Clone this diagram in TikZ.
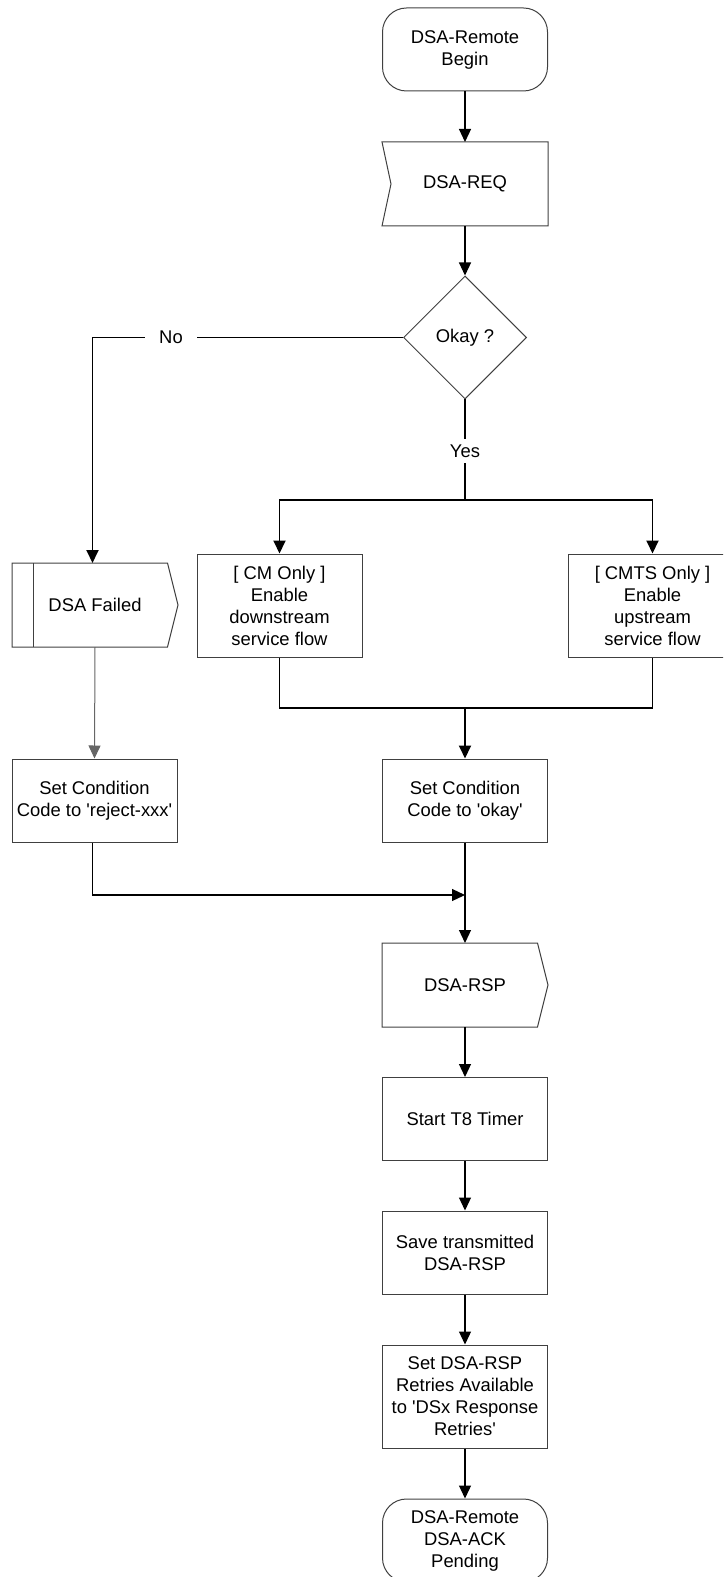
\documentclass[tikz,border=0pt]{standalone}
\usepackage{fontspec}
\setmainfont{Liberation Sans}
\usetikzlibrary{arrows.meta,shapes.geometric,calc}

\begin{document}
\begin{tikzpicture}[x=0.5pt,y=-0.5pt,line join=miter,
  font=\fontsize{9.2}{11}\selectfont,
  box/.style={draw=black!75,line width=0.5pt,minimum width=82.5pt,minimum height=41.5pt,inner sep=1pt,align=center},
  blank/.style={box,draw=none},
  term/.style={box,rounded corners=12pt},
  tallbox/.style={box,minimum height=51.5pt},
  outline/.style={draw=black!75,line width=0.5pt},
  tip/.style={-{Triangle[width=6pt,length=6.5pt]}},
  flow/.style={line width=0.6pt},
  bus/.style={line width=0.95pt},
  thinflow/.style={line width=0.5pt,draw=black!60}]
  \useasboundingbox (0,0) rectangle (723,1577);
  \clip (0,0) rectangle (723,1577);
  \node[term] (begin) at (465,49.5) {DSA-Remote\\Begin};
  \node[blank] (req) at (465,184) {DSA-REQ};
  \draw[outline] (req.north west) -- (req.north east) -- (req.south east) -- (req.south west)
    -- ($(req.west)+(9,0)$) -- cycle;
  \node[draw=black!75,line width=0.5pt,diamond,aspect=1,minimum size=61.5pt,inner sep=0pt] (okq) at (465,337.5) {Okay ?};
  \node[inner xsep=7pt] (nolab) at (171,337.5) {No};
  \node[inner ysep=2.6pt] (yeslab) at (465,451) {Yes};
  \coordinate (nocorner) at (92.5,337.5);
  \coordinate (split) at (465,500);
  \node[tallbox] (cm) at (279.5,605.5) {[ CM Only ]\\Enable\\downstream\\service flow};
  \node[tallbox,minimum width=84pt] (cmts) at (652.5,605.5) {[ CMTS Only ]\\Enable\\upstream\\service flow};
  \node[blank] (fail) at (95,605) {DSA Failed};
  \draw[outline] (fail.north west) -- ($(fail.north east)+(-10.5,0)$) -- (fail.east)
    -- ($(fail.south east)+(-10.5,0)$) -- (fail.south west) -- cycle;
  \draw[outline] ($(fail.north west)+(21,0)$) -- ($(fail.south west)+(21,0)$);
  \coordinate (merge) at (465,708);
  \node[box] (reject) at (94.5,800.5) {Set Condition\\Code to \textquotesingle reject-xxx\textquotesingle};
  \node[box] (okay) at (465,800.5) {Set Condition\\Code to \textquotesingle okay\textquotesingle};
  \coordinate (join) at (465,895);
  \node[blank] (rsp) at (465,985) {DSA-RSP};
  \draw[outline] (rsp.north west) -- ($(rsp.north east)+(-10.5,0)$) -- (rsp.east)
    -- ($(rsp.south east)+(-10.5,0)$) -- (rsp.south west) -- cycle;
  \node[box] (timer) at (465,1119) {Start T8 Timer};
  \node[box] (save) at (465,1252.5) {Save transmitted\\DSA-RSP};
  \node[tallbox] (retries) at (465,1396.5) {Set DSA-RSP\\Retries Available\\to \textquotesingle DSx Response\\Retries\textquotesingle};
  \node[term] (finish) at (465,1540.5) {DSA-Remote\\DSA-ACK\\Pending};
  \draw[flow,tip] (begin) -- (req);
  \draw[flow,tip] (req) -- (okq);
  \draw[bus] (okq.west) -- (nolab.east);
  \draw[bus,tip] (nolab.west) -- (nocorner) -- (nocorner |- fail.north);
  \draw[flow] (okq.south) -- (yeslab.north);
  \draw[flow] (yeslab.south) -- (split);
  \draw[bus,tip] (split) -| (cm.north);
  \draw[bus,tip] (split) -| (cmts.north);
  \draw[bus] (cm.south) |- (merge) -| (cmts.south);
  \draw[bus,tip] (merge) -- (okay.north);
  \draw[thinflow,tip] (fail.south) -- (reject.north);
  \draw[flow,tip] (nocorner |- reject.south) |- (join);
  \draw[flow,tip] (okay) -- (rsp);
  \draw[flow,tip] (rsp) -- (timer);
  \draw[flow,tip] (timer) -- (save);
  \draw[flow,tip] (save) -- (retries);
  \draw[flow,tip] (retries) -- (finish);
\end{tikzpicture}
\end{document}
